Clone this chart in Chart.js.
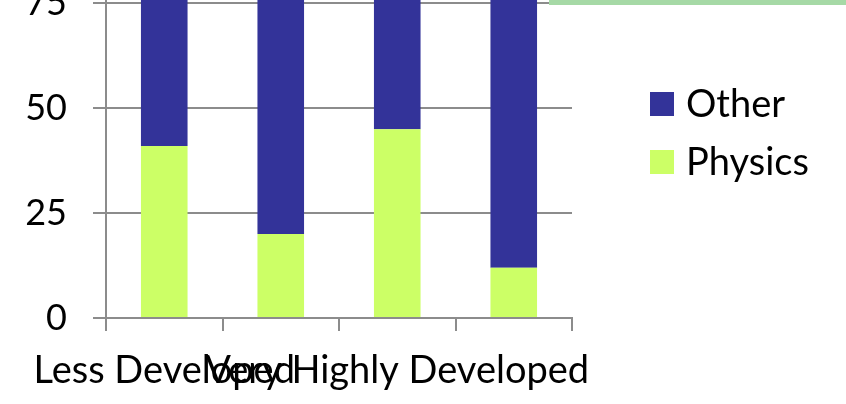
<!DOCTYPE html>
<html lang="en">
<head>
    <meta charset="UTF-8">
    <title>Physics vs Other</title>
    <script src="https://cdn.jsdelivr.net/npm/chart.js"></script>
    <style>
        body {
            margin: 0;
            width: 846px;
            height: 404px;
            overflow: hidden;
            position: relative;
            background: #fff;
            font-family: Lato, sans-serif;
        }
        /* canvas starts above the window, the top of the chart is cut off like in the picture */
        #wrap {
            position: absolute;
            top: -149px;
            left: 0;
            width: 846px;
            height: 553px;
        }
        #topBox {
            position: absolute;
            left: 549px;
            top: -40px;
            width: 300px;
            height: 45px;
            background: #a6d9a6;
            z-index: 2;
        }
        #legend {
            position: absolute;
            left: 650px;
            top: 92px;
        }
        .item {
            display: flex;
            align-items: center;
            height: 24px;
            margin-bottom: 34px;
            font-size: 38px;
            color: #000;
        }
        .item span.box {
            width: 24px;
            height: 24px;
            margin-right: 12px;
        }
        .item span.txt {
            line-height: 24px;
            position: relative;
            top: -2px;
        }
    </style>
</head>
<body>
    <div id="topBox"></div>
    <div id="wrap"><canvas id="chart"></canvas></div>
    <div id="legend"></div>

    <script>
        const categories = ['Less Developed', 'Medium Developed', 'Very Highly Developed', 'Highly Developed'];
        const physics = [41, 20, 45, 12];
        const other = [59, 80, 55, 88];
        const yTicks = [0, 25, 50, 75, 100];

        const gridGray = '#8c8c8c';

        Chart.defaults.font.family = 'Lato';
        Chart.defaults.font.size = 36;
        Chart.defaults.color = '#000';

        const chart = new Chart(document.getElementById('chart'), {
            type: 'bar',
            data: {
                labels: categories,
                datasets: [
                    { label: 'Physics', data: physics, backgroundColor: '#ccff66', borderWidth: 0 },
                    { label: 'Other', data: other, backgroundColor: '#333399', borderWidth: 0 }
                ]
            },
            options: {
                responsive: true,
                maintainAspectRatio: false,
                animation: false,
                layout: { padding: { top: 13, right: 274, left: 0, bottom: 0 } },
                datasets: { bar: { barPercentage: 0.4, categoryPercentage: 1 } },
                plugins: {
                    legend: { display: false },
                    tooltip: { enabled: false }
                },
                scales: {
                    x: {
                        stacked: true,
                        grid: { drawOnChartArea: false, offset: true, color: gridGray, lineWidth: 2, tickLength: 13 },
                        border: { color: gridGray, width: 2 },
                        ticks: {
                            autoSkip: false,
                            maxRotation: 0,
                            padding: 17,
                            font: { size: 38 },
                            // only every second label fits, like the original
                            callback: (v, i) => i % 2 === 0 ? categories[i] : ''
                        },
                        afterFit: (axis) => { axis.height = 86; }
                    },
                    y: {
                        stacked: true,
                        min: 0,
                        max: 100,
                        afterBuildTicks: (axis) => { axis.ticks = yTicks.map(v => ({ value: v })); },
                        grid: { color: gridGray, lineWidth: 2, tickLength: 13 },
                        border: { color: gridGray, width: 2 },
                        ticks: { padding: 26, font: { size: 36 } },
                        afterFit: (axis) => { axis.width = 106; }
                    }
                }
            }
        });

        // html legend, Other on top
        const legendEl = document.getElementById('legend');
        chart.data.datasets.slice().reverse().forEach(ds => {
            const row = document.createElement('div');
            row.className = 'item';
            row.innerHTML = '<span class="box" style="background:' + ds.backgroundColor + '"></span><span class="txt">' + ds.label + '</span>';
            legendEl.appendChild(row);
        });
    </script>
</body>
</html>
